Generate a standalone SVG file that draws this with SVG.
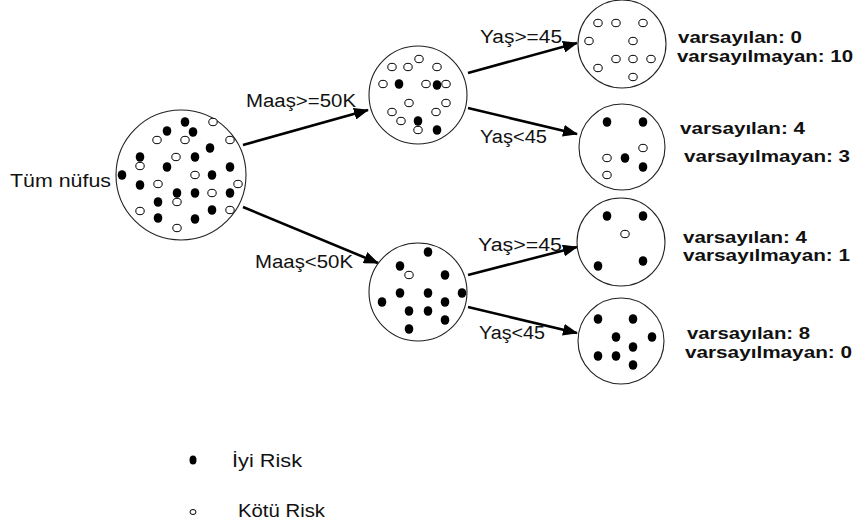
<svg xmlns="http://www.w3.org/2000/svg" width="859" height="524" viewBox="0 0 859 524">
  <style>
    .node { fill: #fff; stroke: #222; stroke-width: 1.1; }
    .good { fill: #000; }
    .bad { fill: #fff; stroke: #000; stroke-width: 1; }
    .edge { stroke: #000; stroke-width: 2.6; fill: none; marker-end: url(#arrow); }
    .lbl { font-family: "Liberation Sans", Arial, sans-serif; font-size: 18px; fill: #111; }
    .cnt { font-family: "Liberation Sans", Arial, sans-serif; font-size: 16.5px; font-weight: bold; fill: #111; }
  </style>
  <defs>
    <marker id="arrow" markerUnits="userSpaceOnUse" markerWidth="16" markerHeight="12" refX="14" refY="6" orient="auto">
      <path d="M0,0 L15,6 L0,12 z" fill="#000"/>
    </marker>
    <ellipse id="g" class="good" rx="4.3" ry="4.8"/>
    <ellipse id="b" class="bad" rx="4.2" ry="3.7"/>
  </defs>
  <rect width="859" height="524" fill="#fff"/>

  <!-- connectors -->
  <g id="connectors">
    <line class="edge" x1="243" y1="145" x2="368" y2="110"/>
    <line class="edge" x1="243" y1="207" x2="378" y2="263"/>
    <line class="edge" x1="468" y1="73" x2="577" y2="43"/>
    <line class="edge" x1="468" y1="108" x2="577" y2="134"/>
    <line class="edge" x1="468" y1="275" x2="577" y2="247"/>
    <line class="edge" x1="468" y1="307" x2="577" y2="333"/>
    <text class="lbl" x="246" y="107" textLength="110" lengthAdjust="spacingAndGlyphs">Maaş&gt;=50K</text>
    <text class="lbl" x="255" y="268" textLength="98" lengthAdjust="spacingAndGlyphs">Maaş&lt;50K</text>
    <text class="lbl" x="480" y="43" textLength="82" lengthAdjust="spacingAndGlyphs">Yaş&gt;=45</text>
    <text class="lbl" x="480" y="143" textLength="67" lengthAdjust="spacingAndGlyphs">Yaş&lt;45</text>
    <text class="lbl" x="478" y="251" textLength="84" lengthAdjust="spacingAndGlyphs">Yaş&gt;=45</text>
    <text class="lbl" x="479" y="339" textLength="66" lengthAdjust="spacingAndGlyphs">Yaş&lt;45</text>
  </g>

  <!-- whole population -->
  <g id="root">
    <circle class="node" cx="181" cy="175" r="65"/>
    <text class="lbl" x="10" y="187" textLength="101" lengthAdjust="spacingAndGlyphs">Tüm nüfus</text>
    <use href="#g" x="185" y="122"/><use href="#g" x="167" y="131"/><use href="#g" x="193" y="132"/>
    <use href="#g" x="210" y="148"/><use href="#g" x="140" y="157"/><use href="#g" x="195" y="157"/>
    <use href="#g" x="167" y="167"/><use href="#g" x="230" y="167"/><use href="#g" x="122" y="175"/>
    <use href="#g" x="212" y="175"/><use href="#g" x="140" y="185"/><use href="#g" x="177" y="193"/>
    <use href="#g" x="195" y="193"/><use href="#g" x="230" y="193"/><use href="#g" x="158" y="202"/>
    <use href="#g" x="212" y="210"/><use href="#g" x="158" y="218"/><use href="#g" x="195" y="219"/>
    <use href="#b" x="213" y="122"/><use href="#b" x="157" y="140"/><use href="#b" x="185" y="140"/>
    <use href="#b" x="230" y="140"/><use href="#b" x="176" y="157"/><use href="#b" x="140" y="166"/>
    <use href="#b" x="195" y="175"/><use href="#b" x="158" y="184"/><use href="#b" x="238" y="184"/>
    <use href="#b" x="212" y="193"/><use href="#b" x="177" y="202"/><use href="#b" x="140" y="211"/>
    <use href="#b" x="230" y="210"/><use href="#b" x="177" y="228"/>
  </g>

  <!-- salary >= 50K -->
  <g id="high-salary">
    <circle class="node" cx="418" cy="95" r="49"/>
    <use href="#b" x="419" y="59"/><use href="#b" x="392" y="67"/><use href="#b" x="408" y="67"/>
    <use href="#b" x="437" y="67"/><use href="#b" x="383" y="84"/><use href="#b" x="426" y="84"/>
    <use href="#b" x="446" y="84"/><use href="#b" x="409" y="103"/><use href="#b" x="446" y="103"/>
    <use href="#b" x="392" y="112"/><use href="#b" x="401" y="121"/><use href="#b" x="436" y="112"/>
    <use href="#b" x="418" y="130"/>
    <use href="#g" x="399" y="84"/><use href="#g" x="437" y="85"/><use href="#g" x="418" y="121"/>
    <use href="#g" x="437" y="130"/>
  </g>

  <!-- salary < 50K -->
  <g id="low-salary">
    <circle class="node" cx="418" cy="292" r="49"/>
    <use href="#g" x="428" y="252"/><use href="#g" x="400" y="266"/><use href="#g" x="445" y="275"/>
    <use href="#g" x="382" y="302"/><use href="#g" x="400" y="293"/><use href="#g" x="428" y="293"/>
    <use href="#g" x="462" y="293"/><use href="#g" x="409" y="311"/><use href="#g" x="428" y="311"/>
    <use href="#g" x="445" y="302"/><use href="#g" x="445" y="320"/><use href="#g" x="409" y="329"/>
    <use href="#b" x="409" y="275"/>
  </g>

  <!-- leaf: high salary, age >= 45 -->
  <g id="leaf-high-old">
    <circle class="node" cx="622" cy="44" r="44"/>
    <use href="#b" x="598" y="23"/><use href="#b" x="616" y="23"/><use href="#b" x="643" y="23"/>
    <use href="#b" x="589" y="41"/><use href="#b" x="633" y="41"/><use href="#b" x="616" y="59"/>
    <use href="#b" x="633" y="59"/><use href="#b" x="651" y="59"/><use href="#b" x="598" y="68"/>
    <use href="#b" x="633" y="77"/>
    <text class="cnt" x="678" y="43" textLength="124" lengthAdjust="spacingAndGlyphs">varsayılan: 0</text>
    <text class="cnt" x="677" y="62" textLength="176" lengthAdjust="spacingAndGlyphs">varsayılmayan: 10</text>
  </g>

  <!-- leaf: high salary, age < 45 -->
  <g id="leaf-high-young">
    <circle class="node" cx="622" cy="147" r="43"/>
    <use href="#g" x="607" y="122"/><use href="#g" x="643" y="122"/><use href="#g" x="625" y="158"/>
    <use href="#g" x="643" y="167"/>
    <use href="#b" x="607" y="158"/><use href="#b" x="643" y="148"/><use href="#b" x="607" y="175"/>
    <text class="cnt" x="680" y="134" textLength="125" lengthAdjust="spacingAndGlyphs">varsayılan: 4</text>
    <text class="cnt" x="684" y="162" textLength="166" lengthAdjust="spacingAndGlyphs">varsayılmayan: 3</text>
  </g>

  <!-- leaf: low salary, age >= 45 -->
  <g id="leaf-low-old">
    <circle class="node" cx="621" cy="242" r="44"/>
    <use href="#g" x="607" y="216"/><use href="#g" x="643" y="216"/><use href="#g" x="598" y="266"/>
    <use href="#g" x="643" y="261"/>
    <use href="#b" x="625" y="234"/>
    <text class="cnt" x="683" y="243" textLength="124" lengthAdjust="spacingAndGlyphs">varsayılan: 4</text>
    <text class="cnt" x="683" y="261" textLength="167" lengthAdjust="spacingAndGlyphs">varsayılmayan: 1</text>
  </g>

  <!-- leaf: low salary, age < 45 -->
  <g id="leaf-low-young">
    <circle class="node" cx="621" cy="341" r="43"/>
    <use href="#g" x="598" y="319"/><use href="#g" x="633" y="319"/><use href="#g" x="616" y="337"/>
    <use href="#g" x="652" y="337"/><use href="#g" x="633" y="347"/><use href="#g" x="598" y="356"/>
    <use href="#g" x="616" y="356"/><use href="#g" x="633" y="365"/>
    <text class="cnt" x="687" y="339" textLength="123" lengthAdjust="spacingAndGlyphs">varsayılan: 8</text>
    <text class="cnt" x="685" y="358" textLength="167" lengthAdjust="spacingAndGlyphs">varsayılmayan: 0</text>
  </g>

  <!-- legend -->
  <g id="legend">
    <ellipse class="good" cx="193" cy="460" rx="3.5" ry="4.5"/>
    <text class="lbl" x="232" y="467" textLength="70" lengthAdjust="spacingAndGlyphs">İyi Risk</text>
    <ellipse class="bad" cx="193" cy="512" rx="3" ry="2.5"/>
    <text class="lbl" x="238" y="517" textLength="87" lengthAdjust="spacingAndGlyphs">Kötü Risk</text>
  </g>
</svg>
